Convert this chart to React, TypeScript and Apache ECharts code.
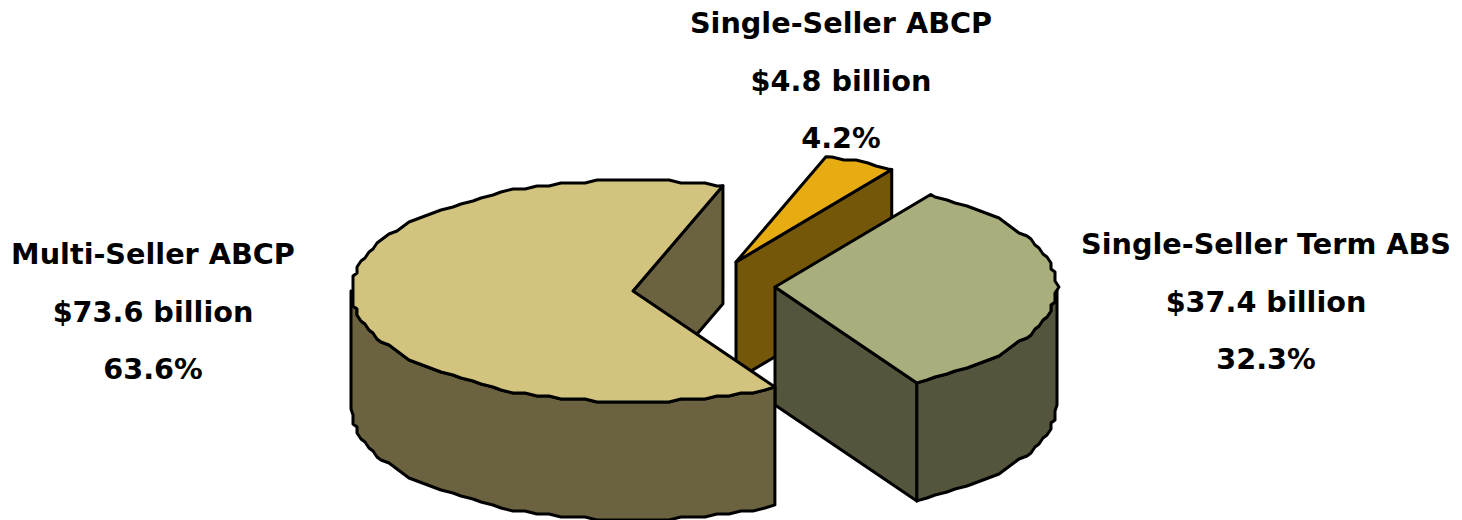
import React, { useEffect, useRef } from "react";
import * as echarts from "echarts";

// Funding outstanding by programme type, in billions of dollars.
const programmes = ["Single-Seller ABCP", "Single-Seller Term ABS", "Multi-Seller ABCP"];
const amounts = [4.8, 37.4, 73.6];
const amountLabels = ["$4.8 billion", "$37.4 billion", "$73.6 billion"];
const shareLabels = ["4.2%", "32.3%", "63.6%"];

const topColors = ["#E6AC12", "#A9AE7C", "#D2C47E"];
const sideColors = ["#75570A", "#54553C", "#6B6340"];

// Exploded wedge apexes and label anchors, in page pixels.
const apexes = [
  [736, 262],
  [775, 287],
  [633, 291],
];
const labelAnchors = [
  [841, 23],
  [1266, 244],
  [153, 254],
];
const LINE_GAP = 57.5;
const RX = 282;
const RY = 111;
const DEPTH = 118;
const FIRST_ANGLE = -71.4;
const ANGLE_STEP = 2.5;
const OUTLINE = { stroke: "#000", lineWidth: 3, lineJoin: "round" as const };

const total = amounts.reduce((a, b) => a + b, 0);

// The rim is plotted on a coarse device grid, which gives the outline its ripple.
const snap = (v: number, step: number) => Math.round(v / step) * step;

function rimPoint(cx: number, cy: number, deg: number, snapped: boolean) {
  const t = (deg * Math.PI) / 180;
  const dx = RX * Math.cos(t);
  const dy = RY * Math.sin(t);
  return snapped ? [cx + snap(dx, 4), cy + snap(dy, 3)] : [cx + dx, cy + dy];
}

function arcPoints(cx: number, cy: number, from: number, to: number) {
  const pts = [rimPoint(cx, cy, from, false)];
  for (let a = Math.ceil(from / ANGLE_STEP + 0.2) * ANGLE_STEP; a < to - 0.5; a += ANGLE_STEP) {
    pts.push(rimPoint(cx, cy, a, true));
  }
  pts.push(rimPoint(cx, cy, to, false));
  return pts;
}

const renderSlice = (params: any, api: any) => {
  const i = params.dataIndex;
  const value = api.value(0);
  const before = amounts.slice(0, i).reduce((a, b) => a + b, 0);
  const from = FIRST_ANGLE + (before / total) * 360;
  const to = from + (value / total) * 360;
  const [cx, cy] = apexes[i];
  const top = arcPoints(cx, cy, from, to);
  const children: any[] = [];

  const wall = (pts: number[][]) =>
    children.push({
      type: "polygon",
      shape: { points: pts },
      style: { fill: sideColors[i], ...OUTLINE },
    });
  const extrude = (pts: number[][]) => [...pts, ...pts.slice().reverse().map(([x, y]) => [x, y + DEPTH])];

  // The closing cut face looks towards the viewer when it lies right of the apex.
  const last = top[top.length - 1];
  if (last[0] > cx) wall(extrude([[cx, cy], last]));

  // Curved outer wall: the part of the rim on the near half of the ellipse.
  const nearFrom = Math.max(from, 0);
  const nearTo = Math.min(to, 180);
  if (nearTo > nearFrom) wall(extrude(arcPoints(cx, cy, nearFrom, nearTo)));

  children.push({
    type: "polygon",
    shape: { points: [[cx, cy], ...top] },
    style: { fill: topColors[i], ...OUTLINE },
  });

  const [lx, ly] = labelAnchors[i];
  [programmes[i], amountLabels[i], shareLabels[i]].forEach((text, k) => {
    children.push({
      type: "text",
      x: lx,
      y: ly + k * LINE_GAP,
      style: {
        text,
        fill: "#000",
        font: 'bold 28.7px "DejaVu Sans"',
        align: "center",
        verticalAlign: "middle",
      },
    });
  });
  return { type: "group", children };
};

export default function App() {
  const ref = useRef<HTMLDivElement>(null);
  useEffect(() => {
    document.body.style.margin = "0";
    const chart = echarts.init(ref.current!, undefined, { renderer: "svg" });
    chart.setOption({
      animation: false,
      backgroundColor: "#fff",
      series: [
        {
          type: "custom",
          coordinateSystem: "none",
          renderItem: renderSlice,
          data: amounts.map((v, i) => ({ name: programmes[i], value: [v] })),
        },
      ],
    });
    return () => chart.dispose();
  }, []);
  return <div ref={ref} style={{ width: 1462, height: 520 }} />;
}
